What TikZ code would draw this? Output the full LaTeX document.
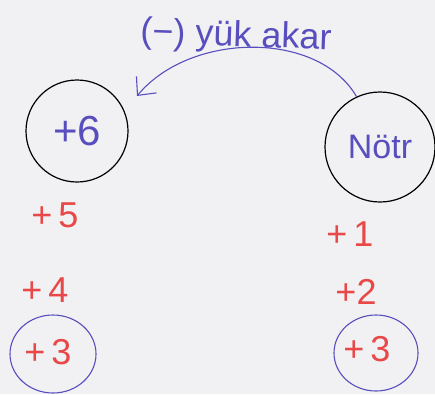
\documentclass[tikz,border=0pt]{standalone}
\usepackage{fontspec}
\setmainfont{Liberation Sans}
\usetikzlibrary{arrows.meta,shapes.geometric}
\definecolor{paper}{RGB}{241,241,243}
\definecolor{penblue}{RGB}{88,78,190}
\definecolor{penred}{RGB}{232,72,72}
\tikzset{
  ball/.style={circle, draw=black, line width=1.2pt, minimum size=#1},
  ring/.style={ellipse, draw=penblue, line width=1.1pt},
  bluetxt/.style={text=penblue, font=\fontsize{42}{44}\selectfont},
  redtxt/.style={text=penred, font=\fontsize{36}{38}\selectfont},
}
\begin{document}
\begin{tikzpicture}[x=1pt,y=-1pt]
\fill[paper] (0,0) rectangle (435,394);
\useasboundingbox (0,0) rectangle (435,394);
\node[ball=102pt, bluetxt] (pos6) at (77,131) {+6};
\node[ball=110pt, text=penblue, font=\fontsize{34}{36}\selectfont, inner sep=0pt] (notr) at (380,147) {Nötr};
\draw[penblue, line width=1.1pt, -{Straight Barb[length=14pt,width=26pt]}]
  (notr.115) .. controls (318,30) and (190,32) .. (137,96) coordinate (tip);
\node[text=penblue, font=\fontsize{36}{38}\selectfont, rotate=-2] (lbl) at (236,37) {(−) yük akar};
\node[redtxt] (p5) at (55,215) {+\,5};
\node[redtxt] (p1) at (350,234) {+\,1};
\node[redtxt] (p4) at (45,290) {+\,4};
\node[redtxt] (p2) at (356,292) {+2};
\node[redtxt] (p3l) at (48,352) {+\,3};
\node[redtxt] (p3r) at (367,349) {+\,3};
\node[ring, minimum width=86pt, minimum height=78pt] (c3l) at (53,354) {};
\node[ring, minimum width=84pt, minimum height=76pt] (c3r) at (376,353) {};
\end{tikzpicture}
\end{document}
